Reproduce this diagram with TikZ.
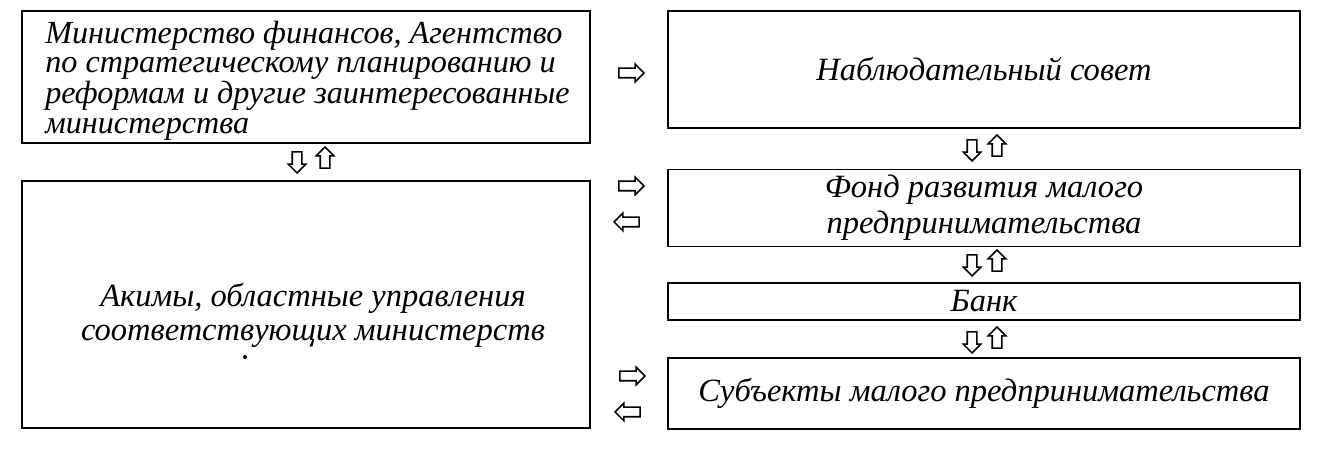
\documentclass[tikz,border=0pt]{standalone}
\usepackage{fontspec}
\setmainfont{Liberation Serif}
\usetikzlibrary{shapes.arrows,positioning}

\begin{document}
\begin{tikzpicture}[
    box/.style={rectangle, draw=black, line width=1.1pt, align=center, inner sep=0pt, font=\itshape\fontsize{18.5}{20}\selectfont},
    harr/.style={single arrow, draw=black, line width=0.9pt, minimum height=0.5cm, minimum width=0.32cm, single arrow head extend=0.08cm, inner xsep=0pt, inner ysep=0.08cm},
    varr/.style={harr, minimum height=0.42cm},
  ]

    \useasboundingbox (0,0) rectangle (26.48,9.28);

    % --- left column ---
    \node[box, minimum width=11.36cm, minimum height=2.64cm] (min) at (6.12,7.74) {};
    \node[align=left, font=\itshape\fontsize{18.3}{16.6}\selectfont, anchor=north west, inner sep=0pt] (mintext) at (0.9,8.86)
      {Министерство финансов, Агентство\\по стратегическому планированию и\\реформам и другие заинтересованные\\министерства};
    \node[box, minimum width=11.36cm, minimum height=4.94cm] (akim) at (6.12,3.19) {};
    \node[align=center, font=\itshape\fontsize{18.5}{19.3}\selectfont] (akimtext) at (6.26,2.98)
      {Акимы, областные управления\\соответствующих министерств};
    \fill (4.9,2.14) circle (0.04);

    % --- right column ---
    \node[box, minimum width=12.64cm, minimum height=2.34cm] (sovet) at (19.68,7.89) {\raisebox{-2pt}{Наблюдательный совет}};
    \node[box, minimum width=12.64cm, minimum height=1.54cm, font=\itshape\fontsize{18.5}{20.5}\selectfont] (fond) at (19.68,5.12) {Фонд развития малого\\предпринимательства};
    \node[box, minimum width=12.64cm, minimum height=0.74cm] (bank) at (19.68,3.25) {Банк};
    \node[box, minimum width=12.64cm, minimum height=1.42cm] (subj) at (19.68,1.41) {Субъекты малого предпринимательства};

    % --- horizontal arrows ---
    \node[harr] (h1) at (12.58,7.82) {};
    \node[harr] (h2) at (12.58,5.56) {};
    \node[harr, rotate=180] (h3) at (12.58,4.84) {};
    \node[harr] (h4) at (12.6,1.76) {};
    \node[harr, rotate=180] (h5) at (12.6,1.04) {};

    % --- vertical arrows ---
    \node[varr, rotate=-90] (d1) at (5.94,6.08) {};
    \node[varr, rotate=90] (u1) at (6.5,6.08) {};
    \node[varr, rotate=-90] (d2) at (19.44,6.32) {};
    \node[varr, rotate=90] (u2) at (19.94,6.32) {};
    \node[varr, rotate=-90] (d3) at (19.44,4.02) {};
    \node[varr, rotate=90] (u3) at (19.94,4.02) {};
    \node[varr, rotate=-90] (d4) at (19.44,2.48) {};
    \node[varr, rotate=90] (u4) at (19.94,2.48) {};

  \end{tikzpicture}
\end{document}
